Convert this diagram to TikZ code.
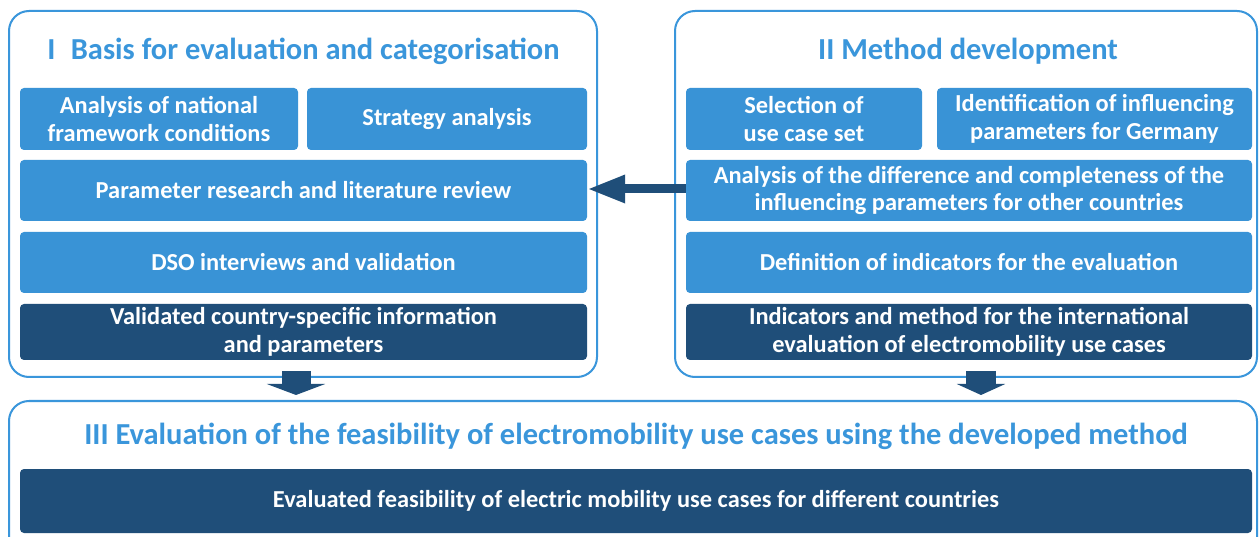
\documentclass[tikz,border=0pt]{standalone}
\usepackage{fontspec}
\setmainfont{Carlito}
\usetikzlibrary{arrows.meta}
\definecolor{panelblue}{RGB}{58,150,219}
\definecolor{boxblue}{RGB}{57,147,214}
\definecolor{darkblue}{RGB}{31,78,121}
\tikzset{
  panel/.style={draw=panelblue, line width=2pt, rounded corners=20pt, fill=white},
  ptitle/.style={text=panelblue, font=\fontsize{30.5}{34}\selectfont\bfseries},
  lbox/.style={fill=boxblue, rounded corners=4pt, text=white, align=center,
    font=\fontsize{24.4}{27.5}\selectfont\bfseries, inner sep=0pt},
  dbox/.style={lbox, fill=darkblue},
  flow/.style={draw=darkblue, line width=#1},
}
\begin{document}
\begin{tikzpicture}[x=1pt,y=-1pt]
\clip (0,0) rectangle (1259,537);
\fill[white] (0,0) rectangle (1259,537);
% panels
\draw[panel] (9,11) rectangle (597,377);
\draw[panel] (675,11) rectangle (1257,377);
\draw[panel] (9,401) rectangle (1257,570);
\node[ptitle] (t1) at (303.5,51) {I\enspace Basis for evaluation and categorisation};
\node[ptitle] (t2) at (968,51) {II Method development};
\node[ptitle] (t3) at (636,436) {III Evaluation of the feasibility of electromobility use cases using the developed method};
% panel I
\node[lbox, minimum width=278pt, minimum height=62pt] (a1) at (159,119) {Analysis of national\\framework conditions};
\node[lbox, minimum width=280pt, minimum height=62pt] (a2) at (447,119) {Strategy analysis};
\node[lbox, minimum width=567pt, minimum height=61pt] (a3) at (303.5,190.5) {Parameter research and literature review};
\node[lbox, minimum width=567pt, minimum height=61pt] (a4) at (303.5,262.5) {DSO interviews and validation};
\node[dbox, minimum width=567pt, minimum height=56pt] (a5) at (303.5,332) {Validated country-specific information\\and parameters};
% panel II
\node[lbox, minimum width=236pt, minimum height=62pt] (b1) at (804,119) {Selection of\\use case set};
\node[lbox, minimum width=315pt, minimum height=62pt] (b2) at (1094.5,119) {Identification of influencing\\parameters for Germany};
\node[lbox, minimum width=566pt, minimum height=61pt] (b3) at (969,190.5) {Analysis of the difference and completeness of the\\influencing parameters for other countries};
\node[lbox, minimum width=566pt, minimum height=61pt] (b4) at (969,262.5) {Definition of indicators for the evaluation};
\node[dbox, minimum width=566pt, minimum height=56pt] (b5) at (969,332) {Indicators and method for the international\\evaluation of electromobility use cases};
% panel III
\node[dbox, minimum width=1232pt, minimum height=64pt] (c1) at (636,501) {Evaluated feasibility of electric mobility use cases for different countries};
% arrows
\draw[flow=9pt, -{Triangle[width=26pt,length=38pt]}] (b3.west |- 0,189) -- (a3.east |- 0,189);
\coordinate (d1s) at (296,371);
\coordinate (d1e) at (296,395);
\coordinate (d2s) at (981,371);
\coordinate (d2e) at (981,395);
\draw[flow=29pt, -{Triangle[width=58pt,length=11pt]}] (d1s) -- (d1e);
\draw[flow=30pt, -{Triangle[width=48pt,length=11pt]}] (d2s) -- (d2e);
\end{tikzpicture}
\end{document}
